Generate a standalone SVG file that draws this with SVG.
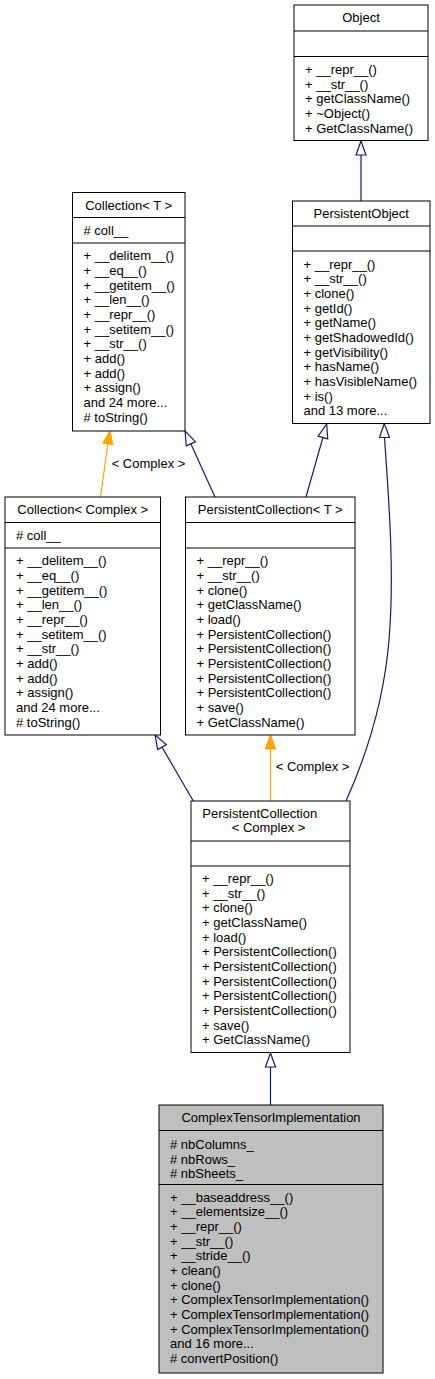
<svg xmlns="http://www.w3.org/2000/svg" width="435" height="1379" viewBox="0 0 435 1379">
<style>
text{font-family:"Liberation Sans",Arial,Helvetica,sans-serif;font-size:13px;fill:#000}
.c{text-anchor:middle}
.box{fill:#fff;stroke:#000;stroke-width:1}
.grey{fill:#bfbfbf}
.sep{stroke:#000;stroke-width:1}
.nv{fill:none;stroke:#191970;stroke-width:1.2}
.or{fill:none;stroke:#ffa500;stroke-width:1.2}
.nvh{fill:#fff;stroke:#191970;stroke-width:1.2}
.orh{fill:#ffa500;stroke:#ffa500;stroke-width:1.2}
</style>
<rect width="435" height="1379" fill="#fff"/>
<g id="connectors">
  <line class="nv" x1="361" y1="201" x2="361" y2="155"/>
  <polygon class="nvh" points="361,141 356,155 366,155"/>
  <line class="or" x1="100.5" y1="497" x2="107.9" y2="443.9"/>
  <polygon class="orh" points="110,431 112.8,444.6 103,443.1"/>
  <text class="c" x="148.5" y="467.5">&lt; Complex &gt;</text>
  <line class="nv" x1="215" y1="497" x2="190.8" y2="443.7"/>
  <polygon class="nvh" points="185,431 195.4,441.7 186.3,445.8"/>
  <line class="nv" x1="306" y1="497" x2="322.9" y2="437.5"/>
  <polygon class="nvh" points="326.7,424 327.7,438.9 318.1,436.1"/>
  <path class="nv" d="M346,801 C368,752 384,700 389,640 C395,570 388,490 384.5,437.5"/>
  <polygon class="nvh" points="384.3,423.5 379.5,437.5 389.5,437.5"/>
  <line class="nv" x1="193.3" y1="801" x2="162" y2="747.1"/>
  <polygon class="nvh" points="155,735 166.4,744.6 157.7,749.6"/>
  <line class="or" x1="270.5" y1="801" x2="270.5" y2="749"/>
  <polygon class="orh" points="270.5,735 265.5,749 275.5,749"/>
  <text x="275.7" y="771">&lt; Complex &gt;</text>
  <line class="nv" x1="270.5" y1="1105" x2="270.5" y2="1067"/>
  <polygon class="nvh" points="270.5,1053 265.5,1067 275.5,1067"/>
</g>
<g id="Object">
  <rect class="box" x="294" y="5" width="134" height="135.5"/>
  <line class="sep" x1="294" y1="31" x2="428" y2="31"/>
  <line class="sep" x1="294" y1="56.5" x2="428" y2="56.5"/>
  <text class="c" x="361" y="22">Object</text>
  <text x="305" y="73.8">+ __repr__()</text>
  <text x="305" y="88.5">+ __str__()</text>
  <text x="305" y="103.2">+ getClassName()</text>
  <text x="305" y="117.8">+ ~Object()</text>
  <text x="305" y="132.5">+ GetClassName()</text>
</g>
<g id="CollectionT">
  <rect class="box" x="72.5" y="192.5" width="112.5" height="238.5"/>
  <line class="sep" x1="72.5" y1="217.5" x2="185" y2="217.5"/>
  <line class="sep" x1="72.5" y1="243" x2="185" y2="243"/>
  <text class="c" x="128.7" y="209.5">Collection&lt; T &gt;</text>
  <text x="83.5" y="234.5"># coll__</text>
  <text x="83.5" y="260.3">+ __delitem__()</text>
  <text x="83.5" y="275">+ __eq__()</text>
  <text x="83.5" y="289.7">+ __getitem__()</text>
  <text x="83.5" y="304.3">+ __len__()</text>
  <text x="83.5" y="319">+ __repr__()</text>
  <text x="83.5" y="333.7">+ __setitem__()</text>
  <text x="83.5" y="348.3">+ __str__()</text>
  <text x="83.5" y="363">+ add()</text>
  <text x="83.5" y="377.7">+ add()</text>
  <text x="83.5" y="392.3">+ assign()</text>
  <text x="83.5" y="407">and 24 more...</text>
  <text x="83.5" y="421.7"># toString()</text>
</g>
<g id="PersistentObject">
  <rect class="box" x="292.5" y="201" width="137.5" height="222.5"/>
  <line class="sep" x1="292.5" y1="226" x2="430" y2="226"/>
  <line class="sep" x1="292.5" y1="251" x2="430" y2="251"/>
  <text class="c" x="361.2" y="217.5">PersistentObject</text>
  <text x="303.5" y="268.5">+ __repr__()</text>
  <text x="303.5" y="283.2">+ __str__()</text>
  <text x="303.5" y="297.8">+ clone()</text>
  <text x="303.5" y="312.5">+ getId()</text>
  <text x="303.5" y="327.2">+ getName()</text>
  <text x="303.5" y="341.8">+ getShadowedId()</text>
  <text x="303.5" y="356.5">+ getVisibility()</text>
  <text x="303.5" y="371.2">+ hasName()</text>
  <text x="303.5" y="385.8">+ hasVisibleName()</text>
  <text x="303.5" y="400.5">+ is()</text>
  <text x="303.5" y="415.2">and 13 more...</text>
</g>
<g id="CollectionComplex">
  <rect class="box" x="5" y="497" width="155.5" height="238"/>
  <line class="sep" x1="5" y1="522.5" x2="160.5" y2="522.5"/>
  <line class="sep" x1="5" y1="548" x2="160.5" y2="548"/>
  <text class="c" x="82.7" y="513.5">Collection&lt; Complex &gt;</text>
  <text x="16" y="539.5"># coll__</text>
  <text x="16" y="565.3">+ __delitem__()</text>
  <text x="16" y="580">+ __eq__()</text>
  <text x="16" y="594.7">+ __getitem__()</text>
  <text x="16" y="609.3">+ __len__()</text>
  <text x="16" y="624">+ __repr__()</text>
  <text x="16" y="638.7">+ __setitem__()</text>
  <text x="16" y="653.3">+ __str__()</text>
  <text x="16" y="668">+ add()</text>
  <text x="16" y="682.7">+ add()</text>
  <text x="16" y="697.3">+ assign()</text>
  <text x="16" y="712">and 24 more...</text>
  <text x="16" y="726.7"># toString()</text>
</g>
<g id="PersistentCollectionT">
  <rect class="box" x="185.5" y="497" width="169.5" height="238"/>
  <line class="sep" x1="185.5" y1="522.5" x2="355" y2="522.5"/>
  <line class="sep" x1="185.5" y1="548" x2="355" y2="548"/>
  <text class="c" x="270.2" y="513.5">PersistentCollection&lt; T &gt;</text>
  <text x="196.5" y="565.3">+ __repr__()</text>
  <text x="196.5" y="580">+ __str__()</text>
  <text x="196.5" y="594.7">+ clone()</text>
  <text x="196.5" y="609.3">+ getClassName()</text>
  <text x="196.5" y="624">+ load()</text>
  <text x="196.5" y="638.7">+ PersistentCollection()</text>
  <text x="196.5" y="653.3">+ PersistentCollection()</text>
  <text x="196.5" y="668">+ PersistentCollection()</text>
  <text x="196.5" y="682.7">+ PersistentCollection()</text>
  <text x="196.5" y="697.3">+ PersistentCollection()</text>
  <text x="196.5" y="712">+ save()</text>
  <text x="196.5" y="726.7">+ GetClassName()</text>
</g>
<g id="PersistentCollectionComplex">
  <rect class="box" x="191" y="801" width="159" height="251.5"/>
  <line class="sep" x1="191" y1="841" x2="350" y2="841"/>
  <line class="sep" x1="191" y1="866" x2="350" y2="866"/>
  <text x="202.3" y="817.5">PersistentCollection</text>
  <text x="231.7" y="831.5">&lt; Complex &gt;</text>
  <text x="202" y="883">+ __repr__()</text>
  <text x="202" y="897.7">+ __str__()</text>
  <text x="202" y="912.3">+ clone()</text>
  <text x="202" y="927">+ getClassName()</text>
  <text x="202" y="941.7">+ load()</text>
  <text x="202" y="956.3">+ PersistentCollection()</text>
  <text x="202" y="971">+ PersistentCollection()</text>
  <text x="202" y="985.7">+ PersistentCollection()</text>
  <text x="202" y="1000.3">+ PersistentCollection()</text>
  <text x="202" y="1015">+ PersistentCollection()</text>
  <text x="202" y="1029.7">+ save()</text>
  <text x="202" y="1044.3">+ GetClassName()</text>
</g>
<g id="ComplexTensorImplementation">
  <rect class="box grey" x="159" y="1105" width="224" height="268"/>
  <line class="sep" x1="159" y1="1130.5" x2="383" y2="1130.5"/>
  <line class="sep" x1="159" y1="1184.5" x2="383" y2="1184.5"/>
  <text class="c" x="271" y="1122">ComplexTensorImplementation</text>
  <text x="170" y="1149"># nbColumns_</text>
  <text x="170" y="1163.7"># nbRows_</text>
  <text x="170" y="1178.3"># nbSheets_</text>
  <text x="170" y="1201.5">+ __baseaddress__()</text>
  <text x="170" y="1216.2">+ __elementsize__()</text>
  <text x="170" y="1230.8">+ __repr__()</text>
  <text x="170" y="1245.5">+ __str__()</text>
  <text x="170" y="1260.2">+ __stride__()</text>
  <text x="170" y="1274.8">+ clean()</text>
  <text x="170" y="1289.5">+ clone()</text>
  <text x="170" y="1304.2">+ ComplexTensorImplementation()</text>
  <text x="170" y="1318.8">+ ComplexTensorImplementation()</text>
  <text x="170" y="1333.5">+ ComplexTensorImplementation()</text>
  <text x="170" y="1348.2">and 16 more...</text>
  <text x="170" y="1362.8"># convertPosition()</text>
</g>
</svg>
